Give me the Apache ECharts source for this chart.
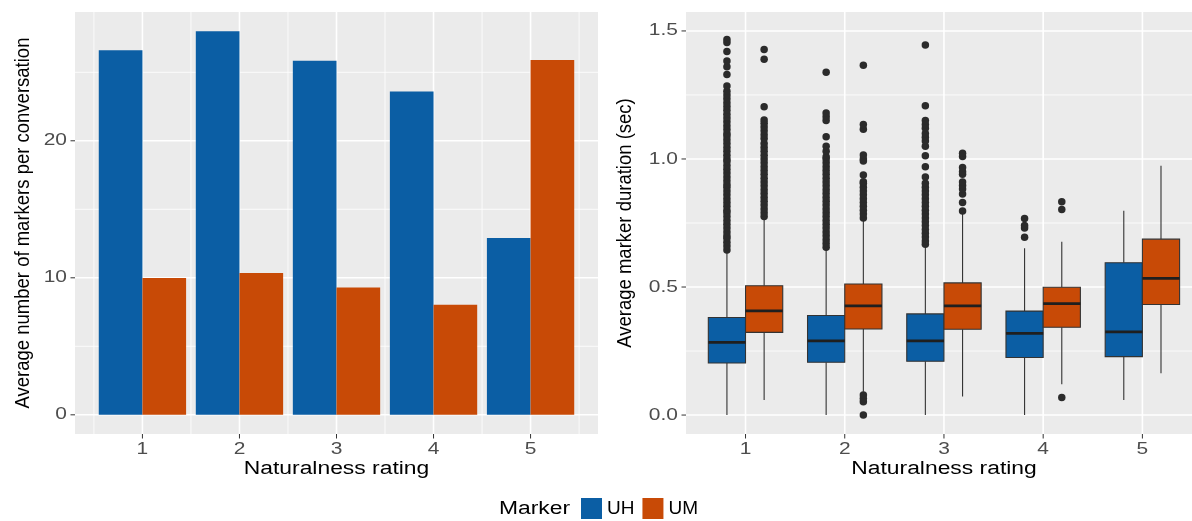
<!DOCTYPE html>
<html><head><meta charset="utf-8">
<script src="https://cdn.jsdelivr.net/npm/echarts@6/dist/echarts.min.js"></script>
<style>html,body{margin:0;padding:0;background:#fff}#c{width:1192px;height:521px}</style>
</head><body><div id="c"></div>
<script>
// ---------------- data ----------------
const ratings = [1, 2, 3, 4, 5];
const markerNames = ['UH', 'UM'];
// left panel: average number of markers per conversation
const countUH = [26.6, 28.0, 25.85, 23.6, 12.9];
const countUM = [9.98, 10.35, 9.3, 8.03, 25.9];
// right panel: box stats [lower whisker, Q1, median, Q3, upper whisker]
const boxUH = [
  [0.0, 0.203, 0.284, 0.381, 0.638],
  [0.0, 0.206, 0.290, 0.389, 0.648],
  [0.0, 0.210, 0.290, 0.395, 0.657],
  [0.0, 0.225, 0.319, 0.406, 0.651],
  [0.059, 0.228, 0.325, 0.595, 0.798]
];
const boxUM = [
  [0.059, 0.323, 0.407, 0.505, 0.768],
  [0.091, 0.336, 0.426, 0.512, 0.762],
  [0.072, 0.335, 0.426, 0.516, 0.785],
  [0.120, 0.343, 0.435, 0.499, 0.677],
  [0.163, 0.432, 0.534, 0.687, 0.974]
];
// outliers
const outUH1 = [0.645, 0.66, 0.675, 0.69, 0.70, 0.715, 0.73, 0.745, 0.76, 0.775, 0.79, 0.80, 0.815, 0.83, 0.845, 0.86, 0.875, 0.89, 0.90, 0.915, 0.93, 0.945, 0.96, 0.975, 0.99, 1.00, 1.015, 1.03, 1.045, 1.06, 1.075, 1.09, 1.10, 1.115, 1.13, 1.145, 1.16, 1.175, 1.19, 1.205, 1.22, 1.235, 1.25, 1.265, 1.285, 1.33, 1.36, 1.383, 1.42, 1.455, 1.467];
const outUM1 = [0.775, 0.79, 0.805, 0.82, 0.835, 0.85, 0.865, 0.88, 0.895, 0.91, 0.925, 0.94, 0.955, 0.97, 0.985, 1.0, 1.015, 1.03, 1.045, 1.06, 1.08, 1.095, 1.11, 1.125, 1.14, 1.152, 1.204, 1.389, 1.428];
const outUH2 = [0.655, 0.67, 0.685, 0.70, 0.715, 0.73, 0.745, 0.76, 0.775, 0.79, 0.805, 0.82, 0.835, 0.85, 0.865, 0.88, 0.895, 0.91, 0.925, 0.94, 0.955, 0.97, 0.985, 1.0, 1.009, 1.03, 1.05, 1.087, 1.15, 1.165, 1.18, 1.339];
const outUM2 = [0.0, 0.052, 0.065, 0.078, 0.77, 0.785, 0.80, 0.815, 0.83, 0.845, 0.86, 0.875, 0.89, 0.905, 0.911, 0.937, 0.992, 1.0, 1.016, 1.116, 1.135, 1.366];
const outUH3 = [0.667, 0.68, 0.695, 0.71, 0.725, 0.74, 0.755, 0.77, 0.785, 0.80, 0.815, 0.83, 0.845, 0.86, 0.875, 0.89, 0.905, 0.93, 0.97, 1.013, 1.05, 1.07, 1.085, 1.10, 1.12, 1.135, 1.15, 1.208, 1.445];
const outUM3 = [0.797, 0.83, 0.863, 0.883, 0.896, 0.91, 0.94, 0.95, 0.967, 1.01, 1.022];
const outUH4 = [0.694, 0.73, 0.74, 0.768];
const outUM4 = [0.069, 0.803, 0.833];
const outUH5 = [];
const outUM5 = [];
const outliersUH = [outUH1, outUH2, outUH3, outUH4, outUH5];
const outliersUM = [outUM1, outUM2, outUM3, outUM4, outUM5];
// ticks
const xTicks = [1, 2, 3, 4, 5];
const leftXMinor = [0.5, 1.5, 2.5, 3.5, 4.5, 5.5];
const leftYTicks = [0, 10, 20];
const leftYMinor = [5, 15, 25];
const rightYTicks = [0, 0.5, 1.0, 1.5];
const rightYMinor = [0.25, 0.75, 1.25];
// texts
const xTitle = 'Naturalness rating';
const leftYTitle = 'Average number of markers per conversation';
const rightYTitle = 'Average marker duration (sec)';
const legendTitle = 'Marker';

// ---------------- style / layout ----------------
const FONT = '"Liberation Sans", Arial, Helvetica, sans-serif';
const COL = { UH: '#0b5ea4', UM: '#c84a06' };
const S = 1.27;   // horizontal text stretch
const SR = 1.12;  // glyph-height stretch of rotated titles
const TICK_FS = 16.5, TITLE_FS = 18, YTITLE_FS = 18.5;
const L = { left: 75, right: 598, top: 12, bottom: 434 };
const R = { left: 686, right: 1192, top: 12, bottom: 434 };
const LX = [0.305, 5.695], LY = [-1.4, 29.4];
const RX = [0.4, 5.5], RY = [-0.074, 1.574];
const DODGE_BAR = 0.45, DODGE_BOX = 0.1875, BOX_HW = 0.1875;

function decor(gi, xr, yr, yMaj, yMin, xMaj, xMin, fmt) {
  const data = [];
  yMin.forEach(v => data.push([v, 1]));
  xMin.forEach(v => data.push([v, 3]));
  yMaj.forEach(v => data.push([v, 0]));
  xMaj.forEach(v => data.push([v, 2]));
  return {
    type: 'custom', name: 'decor' + gi, xAxisIndex: gi, yAxisIndex: gi, z: 1, silent: true, clip: false,
    data: data,
    renderItem: function (params, api) {
      const v = api.value(0), k = api.value(1);
      const ch = [];
      if (k === 0 || k === 1) {
        const a = api.coord([xr[0], v]), b = api.coord([xr[1], v]);
        ch.push({ type: 'line', shape: { x1: a[0], y1: a[1], x2: b[0], y2: b[1] }, style: { stroke: '#ffffff', lineWidth: k === 0 ? 1.6 : 0.8 } });
        if (k === 0) {
          ch.push({ type: 'line', shape: { x1: a[0] - 4.5, y1: a[1], x2: a[0], y2: a[1] }, style: { stroke: '#333333', lineWidth: 1 } });
          ch.push({ type: 'text', x: a[0] - 8, y: a[1], scaleX: S, style: { text: fmt(v), align: 'right', verticalAlign: 'middle', fill: '#4d4d4d', fontSize: TICK_FS, fontFamily: FONT } });
        }
      } else {
        const a = api.coord([v, yr[0]]), b = api.coord([v, yr[1]]);
        ch.push({ type: 'line', shape: { x1: a[0], y1: a[1], x2: b[0], y2: b[1] }, style: { stroke: '#ffffff', lineWidth: k === 2 ? 1.6 : 0.8 } });
        if (k === 2) {
          ch.push({ type: 'line', shape: { x1: a[0], y1: a[1], x2: a[0], y2: a[1] + 4.5 }, style: { stroke: '#333333', lineWidth: 1 } });
          ch.push({ type: 'text', x: a[0], y: a[1] + 15, scaleX: S, style: { text: String(v), align: 'center', verticalAlign: 'middle', fill: '#4d4d4d', fontSize: TICK_FS, fontFamily: FONT } });
        }
      }
      return { type: 'group', children: ch };
    }
  };
}

function barSeries(name, vals, o0, o1) {
  return {
    type: 'custom', name: name, xAxisIndex: 0, yAxisIndex: 0, z: 2,
    itemStyle: { color: COL[name] },
    data: ratings.map((r, i) => [r, vals[i]]),
    renderItem: function (params, api) {
      const x = api.value(0), y = api.value(1);
      const p0 = api.coord([x + o0, y]), p1 = api.coord([x + o1, 0]);
      return { type: 'rect', shape: { x: p0[0], y: p0[1], width: p1[0] - p0[0], height: p1[1] - p0[1] }, style: { fill: COL[name] } };
    }
  };
}

function boxSeries(name, stats, off) {
  return {
    type: 'custom', name: name, xAxisIndex: 1, yAxisIndex: 1, z: 2,
    itemStyle: { color: COL[name] },
    encode: { x: 0, y: [1, 2, 3, 4, 5] },
    data: ratings.map((r, i) => [r].concat(stats[i])),
    renderItem: function (params, api) {
      const x = api.value(0) + off;
      const lo = api.coord([x, api.value(1)]), q1 = api.coord([x, api.value(2)]);
      const md = api.coord([x, api.value(3)]), q3 = api.coord([x, api.value(4)]);
      const hi = api.coord([x, api.value(5)]);
      const xl = api.coord([x - BOX_HW, 0])[0], xr = api.coord([x + BOX_HW, 0])[0];
      const dark = '#333333';
      return { type: 'group', children: [
        { type: 'line', shape: { x1: lo[0], y1: lo[1], x2: q1[0], y2: q1[1] }, style: { stroke: dark, lineWidth: 1.1 } },
        { type: 'line', shape: { x1: q3[0], y1: q3[1], x2: hi[0], y2: hi[1] }, style: { stroke: dark, lineWidth: 1.1 } },
        { type: 'rect', shape: { x: xl, y: q3[1], width: xr - xl, height: q1[1] - q3[1] }, style: { fill: COL[name], stroke: dark, lineWidth: 1.1 } },
        { type: 'line', shape: { x1: xl, y1: md[1], x2: xr, y2: md[1] }, style: { stroke: '#1f1f1f', lineWidth: 2.8 } }
      ] };
    }
  };
}

function outlierSeries(name, lists, off) {
  const data = [];
  lists.forEach((arr, i) => arr.forEach(v => data.push([ratings[i] + off, v])));
  return {
    type: 'scatter', name: name, xAxisIndex: 1, yAxisIndex: 1, z: 3, silent: true,
    symbol: 'circle', symbolSize: 7.5, itemStyle: { color: '#2b2b2b', opacity: 1 },
    data: data
  };
}

const axisOff = { show: false };
const option = {
  animation: false,
  backgroundColor: '#ffffff',
  color: [COL.UH, COL.UM],
  grid: [
    { left: L.left, width: L.right - L.left, top: L.top, height: L.bottom - L.top, show: true, backgroundColor: '#ebebeb', borderWidth: 0, containLabel: false },
    { left: R.left, width: R.right - R.left, top: R.top, height: R.bottom - R.top, show: true, backgroundColor: '#ebebeb', borderWidth: 0, containLabel: false }
  ],
  xAxis: [
    Object.assign({ type: 'value', gridIndex: 0, min: LX[0], max: LX[1] }, axisOff),
    Object.assign({ type: 'value', gridIndex: 1, min: RX[0], max: RX[1] }, axisOff)
  ],
  yAxis: [
    Object.assign({ type: 'value', gridIndex: 0, min: LY[0], max: LY[1] }, axisOff),
    Object.assign({ type: 'value', gridIndex: 1, min: RY[0], max: RY[1] }, axisOff)
  ],
  legend: {
    data: markerNames, left: 581, top: 498, padding: 0, itemWidth: 21, itemHeight: 21, itemGap: 8,
    icon: 'rect', selectedMode: false,
    textStyle: { fontSize: 19, color: '#000000', fontFamily: FONT }
  },
  graphic: [
    { type: 'text', x: (L.left + L.right) / 2, y: 469, scaleX: S, silent: true,
      style: { text: xTitle, align: 'center', verticalAlign: 'middle', fill: '#000', fontSize: TITLE_FS, fontFamily: FONT } },
    { type: 'text', x: 944, y: 469, scaleX: S, silent: true,
      style: { text: xTitle, align: 'center', verticalAlign: 'middle', fill: '#000', fontSize: TITLE_FS, fontFamily: FONT } },
    { type: 'text', x: 23, y: (L.top + L.bottom) / 2, rotation: Math.PI / 2, scaleY: SR, silent: true,
      style: { text: leftYTitle, align: 'center', verticalAlign: 'middle', fill: '#000', fontSize: YTITLE_FS, fontFamily: FONT } },
    { type: 'text', x: 625, y: (R.top + R.bottom) / 2, rotation: Math.PI / 2, scaleY: SR, silent: true,
      style: { text: rightYTitle, align: 'center', verticalAlign: 'middle', fill: '#000', fontSize: YTITLE_FS, fontFamily: FONT } },
    { type: 'text', x: 570, y: 509, scaleX: S, silent: true,
      style: { text: legendTitle, align: 'right', verticalAlign: 'middle', fill: '#000', fontSize: TITLE_FS, fontFamily: FONT } }
  ],
  series: [
    decor(0, LX, LY, leftYTicks, leftYMinor, xTicks, leftXMinor, v => String(v)),
    decor(1, RX, RY, rightYTicks, rightYMinor, xTicks, [], v => v.toFixed(1)),
    barSeries('UH', countUH, -DODGE_BAR, 0),
    barSeries('UM', countUM, 0, DODGE_BAR),
    boxSeries('UH', boxUH, -DODGE_BOX),
    boxSeries('UM', boxUM, DODGE_BOX),
    outlierSeries('UH outliers', outliersUH, -DODGE_BOX),
    outlierSeries('UM outliers', outliersUM, DODGE_BOX)
  ]
};
const chart = echarts.init(document.getElementById('c'), null, { renderer: 'canvas' });
chart.setOption(option);
</script>
</body></html>
